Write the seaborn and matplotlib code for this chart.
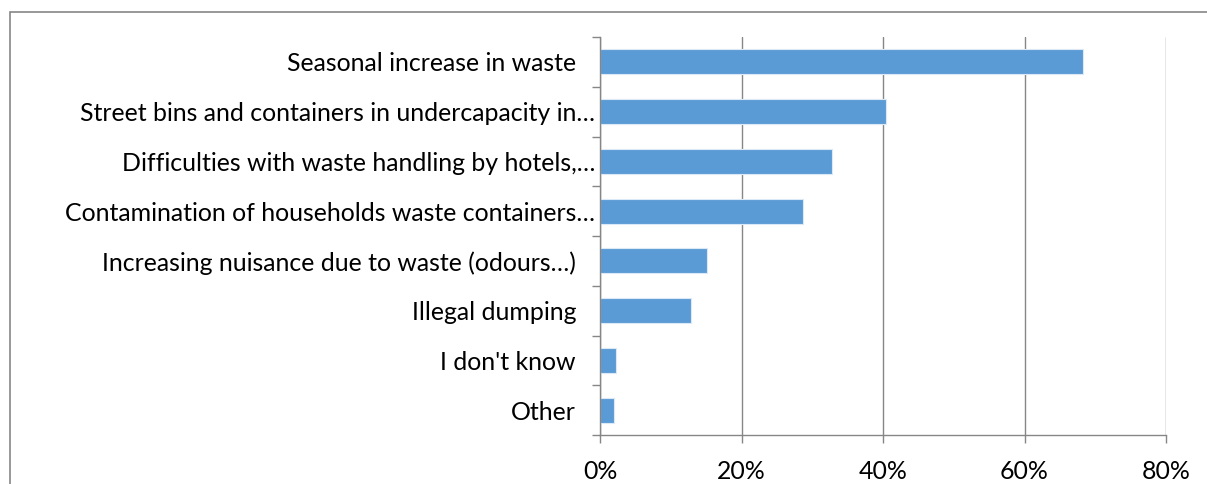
import matplotlib
matplotlib.use("Agg")
import matplotlib.pyplot as plt
import matplotlib.transforms as mtransforms
import seaborn as sns
import pandas as pd
import numpy as np
from matplotlib.patches import Rectangle
from matplotlib.ticker import FixedLocator, PercentFormatter

categories = [
    "Seasonal increase in waste",
    "Street bins and containers in undercapacity in…",
    "Difficulties with waste handling by hotels,…",
    "Contamination of households waste containers…",
    "Increasing nuisance due to waste (odours…)",
    "Illegal dumping",
    "I don't know",
    "Other",
]
shares = [68.3, 40.4, 32.8, 28.7, 15.1, 12.9, 2.3, 2.0]
x_ticks = [0, 20, 40, 60, 80]

df = pd.DataFrame({"category": categories, "share": shares})

sns.set_theme(style="white")
plt.rcParams["font.family"] = ["Lato", "DejaVu Sans"]

W, H = 1207, 484
fig = plt.figure(figsize=(W / 100, H / 100), dpi=100)
ax = fig.add_axes([600 / W, 1 - 435 / H, 566 / W, (435 - 37) / H])

sns.barplot(data=df, x="share", y="category", orient="h", color="#5B9BD5",
            saturation=1, width=0.5, edgecolor="#dbe8f5", linewidth=0.8, ax=ax)

grey = "#868686"
fs = 17.9
ax.set_xlim(0, 80)
ax.set_ylim(len(categories) - 0.5, -0.5)
ax.set_xticks(x_ticks)
ax.xaxis.set_major_formatter(PercentFormatter(decimals=0))
ax.xaxis.grid(True, color=grey, linewidth=1.0)
ax.yaxis.grid(False)
ax.set_axisbelow(True)
ax.set_xlabel("")
ax.set_ylabel("")

for side in ["top", "right"]:
    ax.spines[side].set_visible(False)
for side in ["left", "bottom"]:
    ax.spines[side].set_color(grey)
    ax.spines[side].set_linewidth(1.0)

# boundary ticks between categories on the value axis' left side
ax.tick_params(axis="y", which="major", left=False, labelleft=False)
ax.yaxis.set_minor_locator(FixedLocator(np.arange(-0.5, len(categories), 1.0)))
ax.tick_params(axis="y", which="minor", left=True, length=6, width=1.0,
               color=grey, direction="out")
ax.tick_params(axis="x", which="major", bottom=True, length=6, width=1.0,
               color=grey, direction="out", pad=12, labelsize=fs,
               labelcolor="black")

# category labels; truncated ones sit closer to the axis
blend = mtransforms.blended_transform_factory(ax.transAxes, ax.transData)
for i, name in enumerate(categories):
    gap = 5 if name.endswith("…") else 24
    off = mtransforms.ScaledTranslation(-gap / 100, -2 / 100, fig.dpi_scale_trans)
    ax.text(0, i, name, transform=blend + off, ha="right", va="center",
            fontsize=fs, color="black")

# chart area frame
fig.patches.append(Rectangle((10 / W, -0.1), 1.2, 1.1 - 12 / H,
                             transform=fig.transFigure, fill=False,
                             edgecolor=grey, linewidth=1.2))

fig.savefig("out.png", dpi=100)
